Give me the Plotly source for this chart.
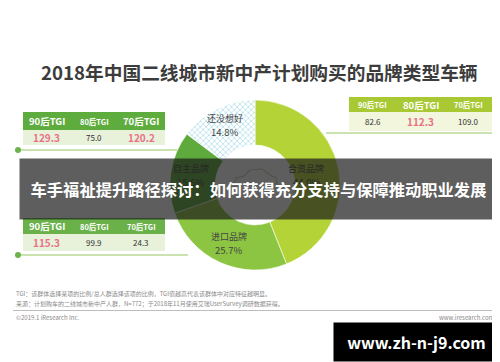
import math
import plotly.graph_objects as go

W, H = 500, 362

# ---------------- data ----------------
title_text = "2018年中国二线城市新中产计划购买的品牌类型车辆"
banner_text = "车手福祉提升路径探讨：如何获得充分支持与保障推动职业发展"
watermark_text = "www.zh-n-j9.com"

brands = ["合资品牌", "进口品牌", "自主品牌", "还没想好"]
shares = [44.0, 25.7, 15.6, 14.8]

tgi_headers = ["90后TGI", "80后TGI", "70后TGI"]
tgi_domestic = [129.3, 75.0, 120.2]      # 自主品牌
tgi_joint = [82.6, 112.3, 109.0]         # 合资品牌
tgi_imported = [115.3, 99.9, 24.3]       # 进口品牌
hl_domestic = [0, 2]
hl_joint = [1]
hl_imported = [0]

note_lines = [
    "TGI：该群体选择某项的比例/总人群选择该项的比例，TGI值越高代表该群体中对应特征越明显。",
    "来源：计划购车的二线城市新中产人群，N=772；于2018年11月使用艾瑞UserSurvey调研数据获得。",
]
copyright_text = "©2019.1 iResearch Inc."
site_text = "www.iresearch.com.cn"

# ---------------- styles ----------------
FONT = "Noto Sans CJK SC"
brand_colors = ["#b4d337", "#8cc541", "#5eaa3c", "#e3f4f8"]
label_radius = [52, 64, 65, 67]
PINK = "#e9728b"

fig = go.Figure()

# pie (donut)
cx, cy, r = 247, 177, 85
fig.add_trace(go.Pie(
    labels=brands, values=shares, sort=False, direction="clockwise", rotation=0,
    hole=0.47,
    marker=dict(colors=brand_colors,
                line=dict(color="white", width=0.6),
                pattern=dict(shape=["", "", "", "x"], fgcolor="#a3d8e6",
                             size=4, solidity=0.3)),
    textinfo="none", hoverinfo="skip", showlegend=False,
    domain=dict(x=[(cx - r) / W, (cx + r) / W], y=[1 - (cy + r) / H, 1 - (cy - r) / H]),
))

shapes = []
annotations = []


def px_text(x, y, text, size, color, bold=False, xanchor="center", family=FONT, **kw):
    annotations.append(dict(
        x=x, y=y, xref="x", yref="y", text=f"<b>{text}</b>" if bold else text,
        showarrow=False, xanchor=xanchor, yanchor="middle",
        font=dict(family=family, size=size, color=color), **kw))


# slice labels, placed on each slice's bisector
total = sum(shares)
cum = 0.0
for name, v, lr in zip(brands, shares, label_radius):
    mid = (cum + v / 2) / total * 2 * math.pi
    cum += v
    lx = cx + lr * math.sin(mid)
    ly = cy - lr * math.cos(mid)
    px_text(lx, ly - 7, name, 9, "#444444")
    px_text(lx, ly + 7, f"{v:.1f}%", 9.5, "#444444")


def table(x0, x1, hy0, hy1, vy1, hdr_color, row_color, values, hl,
          line_y, lx0, lx1, dot_x):
    shapes.append(dict(type="rect", x0=x0, x1=x1, y0=hy0, y1=hy1, xref="x", yref="y",
                       fillcolor=hdr_color, line=dict(width=0), layer="below"))
    shapes.append(dict(type="rect", x0=x0, x1=x1, y0=hy1, y1=vy1, xref="x", yref="y",
                       fillcolor=row_color, line=dict(width=0), layer="below"))
    shapes.append(dict(type="line", x0=lx0, x1=lx1, y0=line_y, y1=line_y, xref="x", yref="y",
                       line=dict(color="#b9da96", width=1.5), layer="below"))
    shapes.append(dict(type="circle", x0=dot_x - 3, x1=dot_x + 3, y0=line_y - 3, y1=line_y + 3,
                       xref="x", yref="y", fillcolor="#6db34b", line=dict(width=0), layer="below"))
    cw = (x1 - x0) / len(values)
    for i, (h, v) in enumerate(zip(tgi_headers, values)):
        xc = x0 + cw * (i + 0.5)
        big = i in hl
        px_text(xc, (hy0 + hy1) / 2, h, 9.5 if big else 7.5, "white", bold=True)
        px_text(xc, (hy1 + vy1) / 2, f"{v:.1f}", 10 if big else 8,
                PINK if big else "#333333", bold=big)


table(15, 157, 104, 122, 137, "#5fac3e", "#e8f1da", tgi_domestic, hl_domestic, 142, 10, 182, 10)
table(341, 484, 89, 104, 123, "#a9c934", "#f1f6dc", tgi_joint, hl_joint, 125, 318, 490, 490)
table(15, 157, 210, 226, 243, "#6ab14a", "#e8f1da", tgi_imported, hl_imported, 247, 10, 180, 10)

# faint car outline in the centre of the donut
shapes.append(dict(type="path", xref="x", yref="y", layer="below",
                   path="M 226 176 L 228 170 L 236 168 L 242 162 L 254 161 L 262 167 L 268 170 L 269 176 Z",
                   fillcolor="rgba(0,0,0,0)", line=dict(color="#c9d3b8", width=1.2)))

# title
px_text(251, 63, title_text, 18.7, "#3c3c3c", bold=True)

# dark banner (drawn as an annotation box so it covers the slice labels)
px_text(250.5, 181, banner_text, 16.3, "white", bold=True,
        bgcolor="rgba(25,25,25,0.70)", width=477, height=60, borderpad=0, align="center")

# notes / footer
px_text(6, 285, note_lines[0], 6, "#8a8a8a", xanchor="left")
px_text(6, 295, note_lines[1], 6, "#8a8a8a", xanchor="left")
shapes.append(dict(type="line", x0=5, x1=497, y0=302.5, y1=302.5, xref="x", yref="y",
                   line=dict(color="#bdbdbd", width=1), layer="below"))
px_text(6, 309, copyright_text, 6, "#8a8a8a", xanchor="left")
px_text(497, 309, site_text, 6, "#8a8a8a", xanchor="right")

# watermark box
px_text(408.5, 334, watermark_text, 16, "white", bold=True,
        bgcolor="black", width=165, height=38, borderpad=0, align="center")

fig.update_layout(
    width=W, height=H, margin=dict(l=0, r=0, t=0, b=0),
    paper_bgcolor="white", plot_bgcolor="rgba(0,0,0,0)",
    xaxis=dict(range=[0, W], visible=False, fixedrange=True),
    yaxis=dict(range=[H, 0], visible=False, fixedrange=True),
    shapes=shapes, annotations=annotations, showlegend=False,
)

fig.write_html("out.html")
